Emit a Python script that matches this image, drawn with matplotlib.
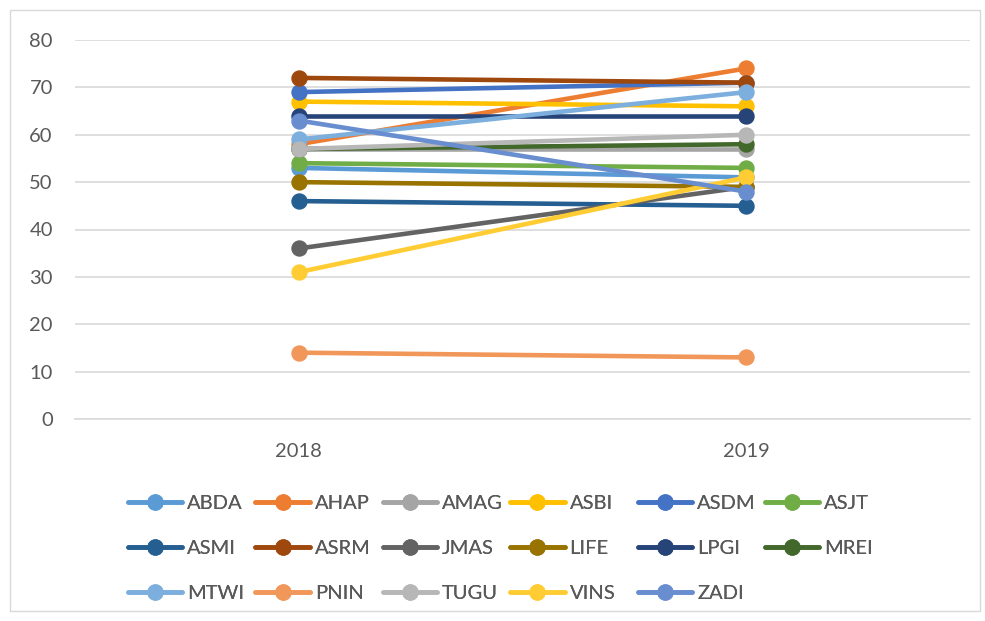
import matplotlib
matplotlib.use("Agg")
import matplotlib.pyplot as plt
from matplotlib.patches import Rectangle

years = ["2018", "2019"]
companies = ["ABDA", "AHAP", "AMAG", "ASBI", "ASDM", "ASJT",
             "ASMI", "ASRM", "JMAS", "LIFE", "LPGI", "MREI",
             "MTWI", "PNIN", "TUGU", "VINS", "ZADI"]
values = {
    "ABDA": [53, 51],
    "AHAP": [58, 74],
    "AMAG": [57, 57],
    "ASBI": [67, 66],
    "ASDM": [69, 71],
    "ASJT": [54, 53],
    "ASMI": [46, 45],
    "ASRM": [72, 71],
    "JMAS": [36, 49],
    "LIFE": [50, 49],
    "LPGI": [64, 64],
    "MREI": [57, 58],
    "MTWI": [59, 69],
    "PNIN": [14, 13],
    "TUGU": [57, 60],
    "VINS": [31, 51],
    "ZADI": [63, 48],
}
colors = ["#5B9BD5", "#ED7D31", "#A5A5A5", "#FFC000", "#4472C4", "#70AD47",
          "#255E91", "#9E480E", "#636363", "#997300", "#264478", "#43682B",
          "#7CAFDD", "#F1975A", "#B7B7B7", "#FFCD33", "#698ED0"]
yticks = [0, 10, 20, 30, 40, 50, 60, 70, 80]

W, H = 985, 621
plt.rcParams["font.family"] = ["Lato", "DejaVu Sans"]
text_color = "#595959"
grid_color = "#D9D9D9"
fsize = 14.5

fig = plt.figure(figsize=(W / 100, H / 100), dpi=100)
fig.patch.set_facecolor("white")
fig.patches.append(Rectangle((10 / W, 1 - 611 / H), 970 / W, 601 / H,
                             transform=fig.transFigure, fill=False,
                             edgecolor=grid_color, linewidth=1.0))

ax = fig.add_axes([75 / W, 1 - 419 / H, 895 / W, 379 / H])
x = list(range(len(years)))
lines = []
for name, c in zip(companies, colors):
    ln, = ax.plot(x, values[name], color=c, linewidth=3.3, marker="o",
                  markersize=10.8, solid_capstyle="round", label=name,
                  clip_on=False, zorder=3)
    lines.append(ln)

ax.set_xlim(-0.5, 1.5)
ax.set_ylim(0, 80)
ax.set_yticks(yticks)
ax.set_yticklabels([str(v) for v in yticks])
ax.set_xticks(x)
ax.set_xticklabels(years)
ax.tick_params(axis="y", length=0, pad=16, labelsize=fsize, labelcolor=text_color)
ax.tick_params(axis="x", length=0, pad=17, labelsize=fsize, labelcolor=text_color)
for s in ["top", "right", "left"]:
    ax.spines[s].set_visible(False)
ax.spines["bottom"].set_color(grid_color)
ax.spines["bottom"].set_linewidth(1.2)
ax.grid(axis="y", color=grid_color, linewidth=1.2, zorder=0)
ax.set_axisbelow(True)

# legend laid out as a 6-column grid of equal-width cells
col0, col_step = 128, 127.4
row0, row_step = 503, 45
for i, ln in enumerate(lines):
    r, c = divmod(i, 6)
    lx = (col0 + c * col_step) / W
    ly = 1 - (row0 + r * row_step) / H
    leg = fig.legend(handles=[ln], loc="center left", bbox_to_anchor=(lx, ly),
                     frameon=False, borderpad=0, borderaxespad=0,
                     handlelength=2.7, handletextpad=0.25, fontsize=fsize,
                     labelcolor=text_color, markerscale=1.0)
    fig.add_artist(leg)

fig.savefig("out.png", dpi=100, facecolor="white")
